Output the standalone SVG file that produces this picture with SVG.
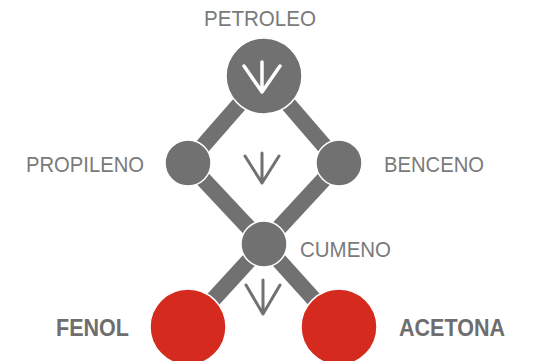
<svg xmlns="http://www.w3.org/2000/svg" width="544" height="361" viewBox="0 0 544 361">
<style>
.ln{stroke:#717171;stroke-width:16;stroke-linecap:butt;fill:none}
.nd{fill:#717171;stroke:#fff;stroke-width:1.5}
.rd{fill:#d52b1e;stroke:#fff;stroke-width:1.5}
.ar{stroke:#717171;stroke-width:3;fill:none;stroke-linecap:round;stroke-linejoin:round}
.arw{stroke:#fff;stroke-width:3.5;fill:none;stroke-linecap:round;stroke-linejoin:round}
.t{font-family:"Liberation Sans",Arial,sans-serif;font-size:22px;fill:#7a7a7a}
.b{font-family:"Liberation Sans",Arial,sans-serif;font-size:23px;font-weight:bold;fill:#6e6e6e}
</style>
<rect width="544" height="361" fill="#fff"/>
<g id="connectors">
<line class="ln" x1="264" y1="76" x2="188" y2="163"/>
<line class="ln" x1="264" y1="76" x2="339" y2="163"/>
<line class="ln" x1="188" y1="163" x2="264" y2="244"/>
<line class="ln" x1="339" y1="163" x2="264" y2="244"/>
<line class="ln" x1="264" y1="244" x2="188" y2="327"/>
<line class="ln" x1="264" y1="244" x2="339" y2="327"/>
</g>
<g id="petroleo">
<circle class="nd" cx="264" cy="76" r="38"/>
<path class="arw" d="M262 62V92M244 66L262 92L280 66"/>
<text class="t" x="260" y="26" text-anchor="middle" textLength="112" lengthAdjust="spacingAndGlyphs">PETROLEO</text>
</g>
<g id="propileno">
<circle class="nd" cx="188" cy="163" r="23"/>
<text class="t" x="26" y="172" textLength="118" lengthAdjust="spacingAndGlyphs">PROPILENO</text>
</g>
<g id="benceno">
<circle class="nd" cx="339" cy="163" r="23"/>
<text class="t" x="384" y="172" textLength="100" lengthAdjust="spacingAndGlyphs">BENCENO</text>
</g>
<g id="arrow-mid">
<path class="ar" d="M262 153V183M245 156L262 183L279 156"/>
</g>
<g id="cumeno">
<circle class="nd" cx="264" cy="244" r="23"/>
<text class="t" x="300" y="257" textLength="91" lengthAdjust="spacingAndGlyphs">CUMENO</text>
</g>
<g id="arrow-bottom">
<path class="ar" d="M263 280V314M246 285L263 314L280 285"/>
</g>
<g id="fenol">
<circle class="rd" cx="188" cy="327" r="38"/>
<text class="b" x="56" y="336" textLength="73" lengthAdjust="spacingAndGlyphs">FENOL</text>
</g>
<g id="acetona">
<circle class="rd" cx="339" cy="327" r="38"/>
<text class="b" x="399" y="336" textLength="106" lengthAdjust="spacingAndGlyphs">ACETONA</text>
</g>
</svg>
